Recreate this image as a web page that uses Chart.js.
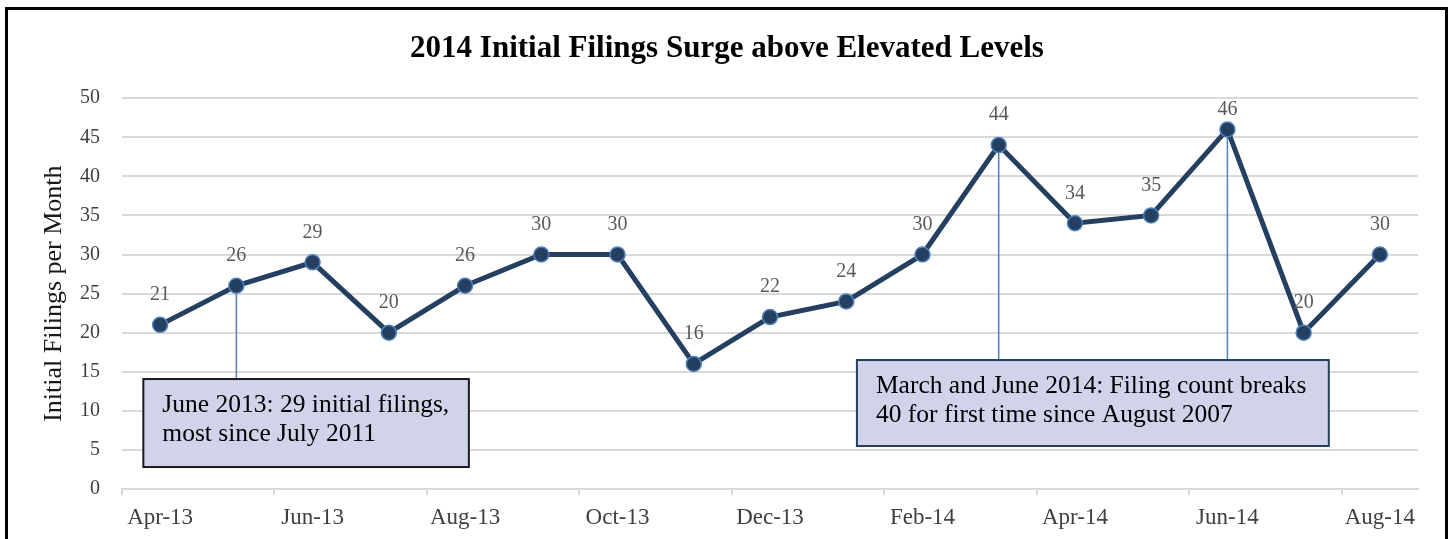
<!DOCTYPE html>
<html><head><meta charset="utf-8">
<script src="https://cdn.jsdelivr.net/npm/chart.js@4.4.1/dist/chart.umd.min.js"></script>
<style>
html,body{margin:0;padding:0;background:#fff;}
body{width:1448px;height:539px;overflow:hidden;position:relative;}
#frame{position:absolute;left:5px;top:7px;width:1437px;height:600px;border:3px solid #000;}
#wrap{position:absolute;left:0;top:0;width:1448px;height:539px;}
</style></head><body>
<div id="frame"></div>
<div id="wrap"><canvas id="c" width="1448" height="539"></canvas></div>
<script>
const months = ['Apr-13','May-13','Jun-13','Jul-13','Aug-13','Sep-13','Oct-13','Nov-13','Dec-13','Jan-14','Feb-14','Mar-14','Apr-14','May-14','Jun-14','Jul-14','Aug-14'];
const filings = [21,26,29,20,26,30,30,16,22,24,30,44,34,35,46,20,30];
const chartTitle = '2014 Initial Filings Surge above Elevated Levels';
const yAxisTitle = 'Initial Filings per Month';
const calloutText1 = ['June 2013: 29 initial filings,', 'most since July 2011'];
const calloutText2 = ['March and June 2014: Filing count breaks', '40 for first time since August 2007'];

const FONT = "'Liberation Serif', 'Times New Roman', serif";

const callouts = [
  {lines: calloutText1, x0: -0.22, x1: 4.05, yTop: 14.07, yBottom: 2.81, anchors: [1], border: '#1a1a1a'},
  {lines: calloutText2, x0: 9.14, x1: 15.33, yTop: 16.5, yBottom: 5.5, anchors: [11, 14], border: '#243f60'}
];

const leaderPlugin = {
  id: 'leaders',
  beforeDatasetsDraw(chart) {
    const ctx = chart.ctx, ys = chart.scales.y;
    const meta = chart.getDatasetMeta(0);
    ctx.save();
    ctx.strokeStyle = '#4f81bd';
    ctx.lineWidth = 1.5;
    callouts.forEach(c => {
      const top = ys.getPixelForValue(c.yTop);
      c.anchors.forEach(i => {
        const pt = meta.data[i];
        ctx.beginPath();
        ctx.moveTo(pt.x, pt.y);
        ctx.lineTo(pt.x, top);
        ctx.stroke();
      });
    });
    ctx.restore();
  },
  afterDatasetsDraw(chart) {
    const ctx = chart.ctx, xs = chart.scales.x, ys = chart.scales.y;
    const meta = chart.getDatasetMeta(0);
    ctx.save();
    callouts.forEach(c => {
      const l = xs.getPixelForValue(c.x0), r = xs.getPixelForValue(c.x1);
      const t = ys.getPixelForValue(c.yTop), b = ys.getPixelForValue(c.yBottom);
      ctx.fillStyle = '#d0d3ea';
      ctx.fillRect(l, t, r - l, b - t);
      ctx.strokeStyle = c.border;
      ctx.lineWidth = 2;
      ctx.strokeRect(l, t, r - l, b - t);
      ctx.fillStyle = '#000';
      ctx.font = '25.5px ' + FONT;
      ctx.textAlign = 'left';
      ctx.textBaseline = 'middle';
      c.lines.forEach((s, k) => ctx.fillText(s, l + 19, t + 26 + k * 29));
    });
    ctx.font = '20px ' + FONT;
    ctx.fillStyle = '#595959';
    ctx.textAlign = 'center';
    ctx.textBaseline = 'middle';
    meta.data.forEach((pt, i) => {
      const y = Math.max(pt.y - 30, chart.chartArea.top + 12);
      ctx.fillText(String(filings[i]), pt.x, y);
    });
    ctx.restore();
  }
};

new Chart(document.getElementById('c'), {
  type: 'line',
  data: {
    labels: months,
    datasets: [{
      data: filings,
      borderColor: '#243f60',
      borderWidth: 5,
      tension: 0,
      pointRadius: 7.5,
      pointBorderWidth: 1.5,
      pointBackgroundColor: '#243f60',
      pointBorderColor: '#4f81bd',
      fill: false
    }]
  },
  options: {
    responsive: false,
    animation: false,
    devicePixelRatio: 1,
    layout: {padding: {left: 6, right: 0, top: 0, bottom: 0}},
    plugins: {
      legend: {display: false},
      tooltip: {enabled: false},
      title: {
        display: true,
        text: chartTitle,
        color: '#000',
        font: {family: FONT, size: 31, weight: 'bold', lineHeight: 1.2},
        padding: {top: 30, bottom: 31}
      }
    },
    scales: {
      x: {
        offset: true,
        afterFit: s => { s.height = 50; },
        grid: {
          offset: true,
          drawOnChartArea: false,
          drawTicks: true,
          tickLength: 6,
          lineWidth: 2,
          tickColor: c => (c.index !== undefined && c.index % 2 === 0) ? '#d9d9d9' : 'rgba(0,0,0,0)'
        },
        border: {display: true, color: '#d9d9d9', width: 2},
        ticks: {
          autoSkip: false,
          maxRotation: 0,
          padding: 9,
          color: '#404040',
          font: {family: FONT, size: 23},
          callback: (v, i) => i % 2 === 0 ? months[i] : ''
        }
      },
      y: {
        min: 0,
        max: 50,
        afterFit: s => { s.width = 116; },
        grid: {color: '#d9d9d9', lineWidth: 2, drawTicks: false},
        border: {display: false},
        ticks: {
          stepSize: 5,
          padding: 22,
          color: '#404040',
          font: {family: FONT, size: 20}
        },
        title: {
          display: true,
          text: yAxisTitle,
          color: '#1a1a1a',
          font: {family: FONT, size: 26, lineHeight: 1.2},
          padding: {top: 33, bottom: 0}
        }
      },
      yRight: {
        position: 'right',
        min: 0,
        max: 50,
        afterFit: s => { s.width = 30; },
        grid: {drawOnChartArea: false, drawTicks: false, display: false},
        border: {display: false},
        ticks: {display: false}
      }
    }
  },
  plugins: [leaderPlugin]
});
</script>
</body></html>
